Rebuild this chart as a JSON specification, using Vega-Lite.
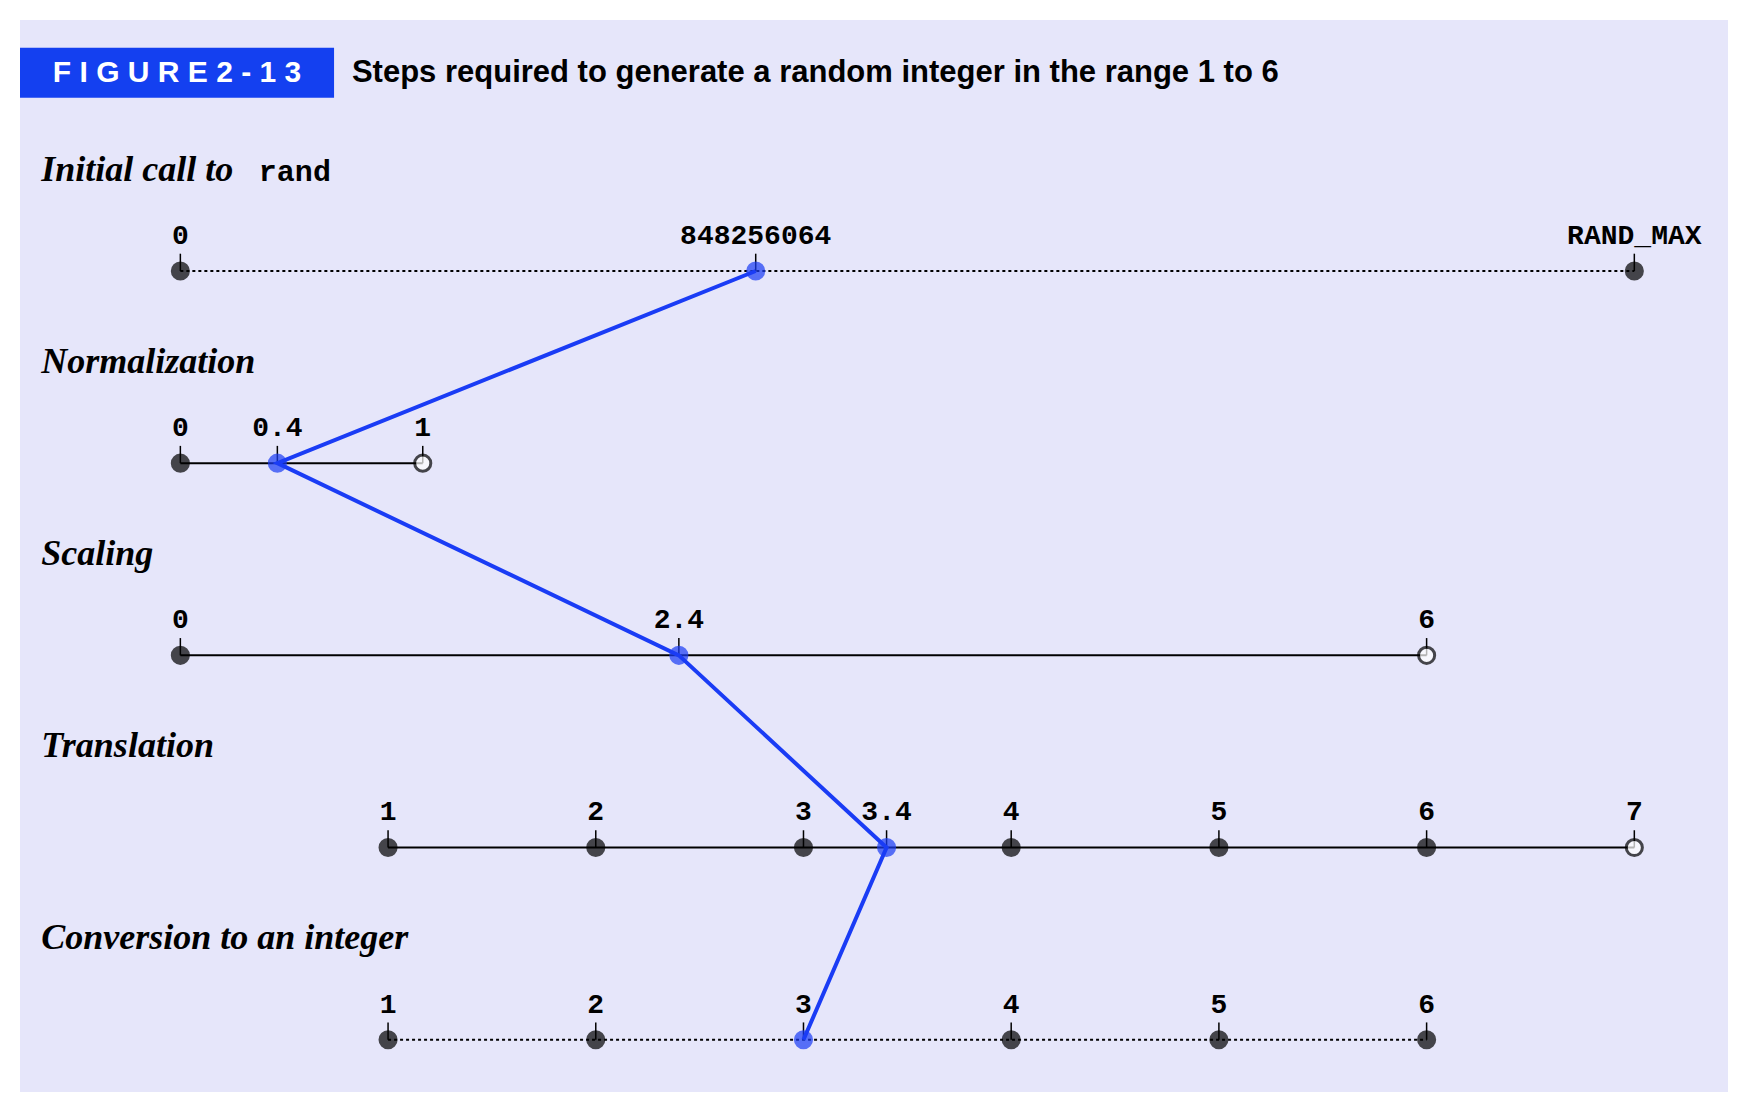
{
  "$schema": "https://vega.github.io/schema/vega-lite/v6.json",
  "width": 1708,
  "height": 1072,
  "padding": 20,
  "background": "white",
  "config": {"view": {"fill": "#e6e6fa", "stroke": null}},
  "datasets": {
    "lines": [
      {"r": 0, "u": 0, "u2": 7, "dash": "dotted"},
      {"r": 1, "u": 0, "u2": 1.167, "dash": "solid"},
      {"r": 2, "u": 0, "u2": 6, "dash": "solid"},
      {"r": 3, "u": 1, "u2": 7, "dash": "solid"},
      {"r": 4, "u": 1, "u2": 6, "dash": "dotted"}
    ],
    "pts": [
      {"r": 0, "u": 0, "label": "0", "kind": "filled"},
      {"r": 0, "u": 2.77, "label": "848256064", "kind": "blue"},
      {"r": 0, "u": 7, "label": "RAND_MAX", "kind": "filled"},
      {"r": 1, "u": 0, "label": "0", "kind": "filled"},
      {"r": 1, "u": 0.467, "label": "0.4", "kind": "blue"},
      {"r": 1, "u": 1.167, "label": "1", "kind": "open"},
      {"r": 2, "u": 0, "label": "0", "kind": "filled"},
      {"r": 2, "u": 2.4, "label": "2.4", "kind": "blue"},
      {"r": 2, "u": 6, "label": "6", "kind": "open"},
      {"r": 3, "u": 1, "label": "1", "kind": "filled"},
      {"r": 3, "u": 2, "label": "2", "kind": "filled"},
      {"r": 3, "u": 3, "label": "3", "kind": "filled"},
      {"r": 3, "u": 3.4, "label": "3.4", "kind": "blue"},
      {"r": 3, "u": 4, "label": "4", "kind": "filled"},
      {"r": 3, "u": 5, "label": "5", "kind": "filled"},
      {"r": 3, "u": 6, "label": "6", "kind": "filled"},
      {"r": 3, "u": 7, "label": "7", "kind": "open"},
      {"r": 4, "u": 1, "label": "1", "kind": "filled"},
      {"r": 4, "u": 2, "label": "2", "kind": "filled"},
      {"r": 4, "u": 3, "label": "3", "kind": "blue"},
      {"r": 4, "u": 4, "label": "4", "kind": "filled"},
      {"r": 4, "u": 5, "label": "5", "kind": "filled"},
      {"r": 4, "u": 6, "label": "6", "kind": "filled"}
    ],
    "path": [
      {"order": 0, "u": 2.77, "r": 0},
      {"order": 1, "u": 0.467, "r": 1},
      {"order": 2, "u": 2.4, "r": 2},
      {"order": 3, "u": 3.4, "r": 3},
      {"order": 4, "u": 3, "r": 4}
    ],
    "sections": [
      {"u": -0.67, "r": -0.47, "text": "Initial call to"},
      {"u": -0.67, "r": 0.53, "text": "Normalization"},
      {"u": -0.67, "r": 1.53, "text": "Scaling"},
      {"u": -0.67, "r": 2.53, "text": "Translation"},
      {"u": -0.67, "r": 3.53, "text": "Conversion to an integer"}
    ]
  },
  "encoding": {
    "x": {"field": "u", "type": "quantitative", "axis": null, "scale": {"domain": [-0.772, 7.451], "nice": false, "zero": false}},
    "y": {"field": "r", "type": "quantitative", "axis": null, "scale": {"domain": [4.272, -1.306], "nice": false, "zero": false}}
  },
  "layer": [
    {
      "data": {"values": [{"u": -0.772, "u2": 0.74, "r": -1.162, "r2": -0.902}]},
      "mark": {"type": "rect", "color": "#1440f0"},
      "encoding": {"x2": {"field": "u2"}, "y2": {"field": "r2"}}
    },
    {
      "data": {"values": [{"u": -0.016, "r": -1.032, "t": "F I G U R E   2 - 1 3"}]},
      "mark": {"type": "text", "font": "Liberation Sans", "fontWeight": "bold", "fontSize": 30, "color": "white", "align": "center", "baseline": "middle"},
      "encoding": {"text": {"field": "t"}}
    },
    {
      "data": {"values": [{"u": 0.826, "r": -1.032, "t": "Steps required to generate a random integer in the range 1 to 6"}]},
      "mark": {"type": "text", "font": "Liberation Sans", "fontWeight": "bold", "fontSize": 31, "color": "black", "align": "left", "baseline": "middle"},
      "encoding": {"text": {"field": "t"}}
    },
    {
      "data": {"name": "sections"},
      "mark": {"type": "text", "font": "Liberation Serif", "fontStyle": "italic", "fontWeight": "bold", "fontSize": 36, "color": "black", "align": "left", "baseline": "alphabetic"},
      "encoding": {"text": {"field": "text"}}
    },
    {
      "data": {"values": [{"u": 0.378, "r": -0.47, "t": "rand"}]},
      "mark": {"type": "text", "font": "Liberation Mono", "fontWeight": "bold", "fontSize": 30, "color": "black", "align": "left", "baseline": "alphabetic"},
      "encoding": {"text": {"field": "t"}}
    },
    {
      "data": {"name": "lines"},
      "mark": {"type": "rule", "color": "black", "strokeWidth": 2},
      "encoding": {
        "x2": {"field": "u2"},
        "strokeDash": {"field": "dash", "type": "nominal", "legend": null, "scale": {"domain": ["dotted", "solid"], "range": [[3, 3], [1, 0]]}}
      }
    },
    {
      "data": {"name": "pts"},
      "transform": [{"calculate": "datum.r - 0.09", "as": "rt"}],
      "mark": {"type": "rule", "color": "black", "strokeWidth": 1.5},
      "encoding": {"y2": {"field": "rt"}}
    },
    {
      "data": {"name": "pts"},
      "transform": [{"calculate": "datum.r - 0.11", "as": "rl"}],
      "mark": {"type": "text", "font": "Liberation Mono", "fontWeight": "bold", "fontSize": 28, "color": "black", "align": "center", "baseline": "bottom"},
      "encoding": {"y": {"field": "rl", "type": "quantitative"}, "text": {"field": "label"}}
    },
    {
      "data": {"name": "path"},
      "mark": {"type": "line", "color": "#1a3cf5", "strokeWidth": 4},
      "encoding": {"order": {"field": "order", "type": "quantitative"}}
    },
    {
      "data": {"name": "pts"},
      "mark": {"type": "point", "filled": true, "size": 260, "strokeWidth": 3},
      "encoding": {
        "fill": {"field": "kind", "type": "nominal", "legend": null, "scale": {"domain": ["filled", "open", "blue"], "range": ["black", "white", "#1a3cf5"]}},
        "stroke": {"field": "kind", "type": "nominal", "legend": null, "scale": {"domain": ["filled", "open", "blue"], "range": ["black", "black", "#1a3cf5"]}}
      }
    }
  ]
}
